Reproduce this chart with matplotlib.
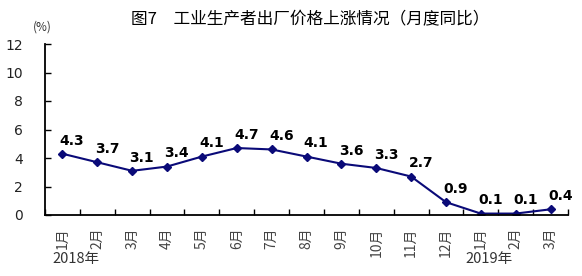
import matplotlib
matplotlib.use("Agg")
import matplotlib.pyplot as plt
import numpy as np

plt.rcParams['font.family'] = ['Noto Sans CJK SC', 'DejaVu Sans']

months = ["1月", "2月", "3月", "4月", "5月", "6月", "7月", "8月", "9月", "10月", "11月", "12月", "1月", "2月", "3月"]
values = [4.3, 3.7, 3.1, 3.4, 4.1, 4.7, 4.6, 4.1, 3.6, 3.3, 2.7, 0.9, 0.1, 0.1, 0.4]
yticks = [0, 2, 4, 6, 8, 10, 12]
title = "图7　工业生产者出厂价格上涨情况（月度同比）"

fig = plt.figure(figsize=(5.82, 2.76), dpi=100)
ax = fig.add_axes([45/582, 61/276, 523/582, 171/276])

x = np.arange(len(values))
color = "#0a0a78"
ax.plot(x, values, color=color, lw=1.5, marker="D", ms=4.5, mfc=color, mec=color)
for xi, v in zip(x, values):
    ax.annotate(f"{v:.1f}", (xi, v), xytext=(7, 9.5), textcoords="offset points",
                ha="center", va="center", fontsize=10, fontweight="bold", family="DejaVu Sans")

ax.set_xlim(-0.5, len(values) - 0.5)
ax.set_ylim(0, 12)
ax.set_yticks(yticks)
ax.set_yticklabels([str(t) for t in yticks], fontsize=10, family="DejaVu Sans", color="#222222")
ax.tick_params(axis="y", direction="in", length=4, pad=16, width=1)

ax.set_xticks(x)
ax.set_xticklabels(months, rotation=90, fontsize=10, color="#444444")
ax.tick_params(axis="x", which="major", length=0, pad=9)
ax.set_xticks(np.arange(-0.5, len(values) - 0.4, 1.0), minor=True)
ax.tick_params(axis="x", which="minor", direction="in", length=4, width=1)

for s in ["top", "right"]:
    ax.spines[s].set_visible(False)
for s in ["left", "bottom"]:
    ax.spines[s].set_linewidth(1.3)
    ax.spines[s].set_color("black")

fig.text(310/582, 1 - 20/276, title, ha="center", va="center", fontsize=12)
fig.text(42/582, 1 - 27/276, "(%)", ha="center", va="center", fontsize=8.5, color="#333333")
fig.text(76/582, 1 - 259/276, "2018年", ha="center", va="center", fontsize=10.5, color="#333333")
fig.text(489/582, 1 - 259/276, "2019年", ha="center", va="center", fontsize=10.5, color="#333333")

fig.savefig("out.png", dpi=100)
